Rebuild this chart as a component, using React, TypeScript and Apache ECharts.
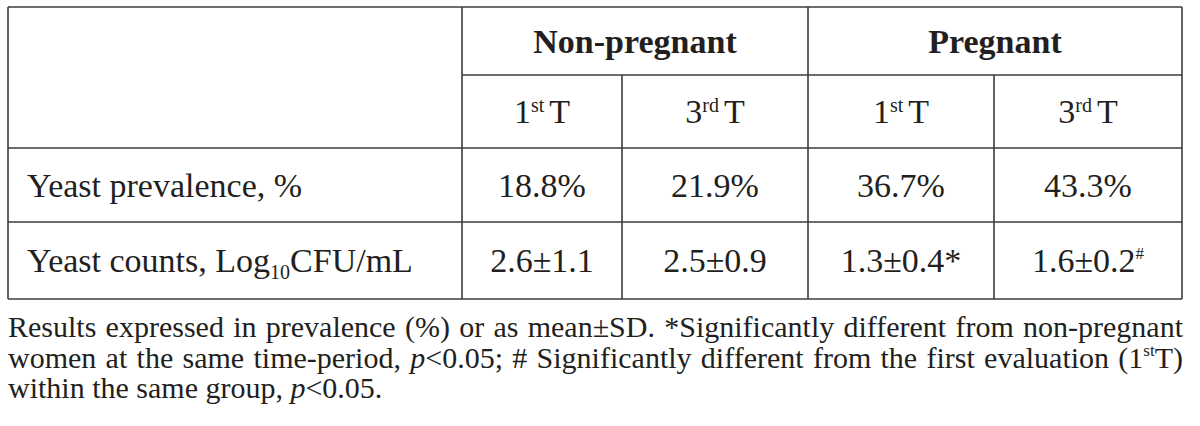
import React, { useEffect, useRef } from "react";
import * as echarts from "echarts";

// ---------- data ----------
const groups = ["Non-pregnant", "Pregnant"];
const periodNumbers = ["1", "3"];
const periodSuffixes = ["st", "rd"];
const rowLabels = ["Yeast prevalence, %", "Yeast counts, Log10CFU/mL"];
const prevalence = [18.8, 21.9, 36.7, 43.3];
const countMean = [2.6, 2.5, 1.3, 1.6];
const countSD = [1.1, 0.9, 0.4, 0.2];
const countMarks = ["", "", "*", "#"];
const footLine1 = "Results expressed in prevalence (%) or as mean±SD. *Significantly different from non-pregnant";
const footLine2a = "women at the same time-period,";
const footLine2b = "# Significantly different from the first evaluation";
const footLine3a = "within the same group,";

// ---------- layout ----------
const FONT = "Liberation Serif";
const TEXT = "#231f20";
const LINE = "#3c3c3c";
const colX = [8, 462, 622, 808, 994, 1182];
const rowY = [7, 75, 148, 222, 299];
const MAIN = 34;
const SUP = 20;
const FOOT = 30;

type Run = { t: string; size: number; weight?: string; style?: string; dy?: number };

let ctx: CanvasRenderingContext2D | null = null;
function mw(r: Run): number {
  if (!ctx) ctx = document.createElement("canvas").getContext("2d");
  ctx!.font = `${r.style || "normal"} ${r.weight || "normal"} ${r.size}px "${FONT}"`;
  return ctx!.measureText(r.t).width;
}
function runsW(runs: Run[]) {
  return runs.reduce((s, r) => s + mw(r), 0);
}
function textEl(r: Run, x: number, baseline: number) {
  return {
    type: "text",
    x,
    y: baseline + (r.dy || 0) - 0.3375 * r.size,
    silent: true,
    style: {
      text: r.t,
      fontSize: r.size,
      fontFamily: FONT,
      fontWeight: r.weight || "normal",
      fontStyle: r.style || "normal",
      fill: TEXT,
      textAlign: "left",
      textVerticalAlign: "middle",
      verticalAlign: "middle",
    },
  };
}
function place(runs: Run[], x: number, baseline: number, align: "left" | "center") {
  const total = runsW(runs);
  let cx = align === "center" ? x - total / 2 : x;
  const out: any[] = [];
  for (const r of runs) {
    out.push(textEl(r, cx, baseline));
    cx += mw(r);
  }
  return out;
}
function justify(words: Run[][], x0: number, x1: number, baseline: number, full: boolean) {
  const ws = words.map(runsW);
  const sum = ws.reduce((a, b) => a + b, 0);
  const normal = mw({ t: " ", size: FOOT });
  const gap = full ? Math.max(normal * 0.8, (x1 - x0 - sum) / (words.length - 1)) : normal;
  const out: any[] = [];
  let cx = x0;
  words.forEach((w, i) => {
    out.push(...place(w, cx, baseline, "left"));
    cx += ws[i] + gap;
  });
  return out;
}
const plainWords = (s: string): Run[][] => s.split(" ").map((t) => [{ t, size: FOOT }]);

function buildGraphics() {
  const els: any[] = [];
  const ln = (x1: number, y1: number, x2: number, y2: number) =>
    els.push({ type: "line", silent: true, shape: { x1, y1, x2, y2 }, style: { stroke: LINE, lineWidth: 1.6 } });

  // outer border
  ln(colX[0], rowY[0], colX[5], rowY[0]);
  ln(colX[0], rowY[4], colX[5], rowY[4]);
  ln(colX[0], rowY[0], colX[0], rowY[4]);
  ln(colX[5], rowY[0], colX[5], rowY[4]);
  // inner lines
  ln(colX[1], rowY[0], colX[1], rowY[4]);
  ln(colX[3], rowY[0], colX[3], rowY[4]);
  ln(colX[1], rowY[1], colX[5], rowY[1]);
  ln(colX[2], rowY[1], colX[2], rowY[4]);
  ln(colX[4], rowY[1], colX[4], rowY[4]);
  ln(colX[0], rowY[2], colX[5], rowY[2]);
  ln(colX[0], rowY[3], colX[5], rowY[3]);

  const base = (r: number) => (rowY[r] + rowY[r + 1]) / 2 + 11.5;

  // group headers
  groups.forEach((g, gi) => {
    const cx = (colX[1 + gi * 2] + colX[3 + gi * 2]) / 2;
    els.push(...place([{ t: g, size: MAIN, weight: "bold" }], cx, base(0), "center"));
  });
  // period headers
  for (let c = 0; c < 4; c++) {
    const p = c % 2;
    const cx = (colX[1 + c] + colX[2 + c]) / 2;
    els.push(
      ...place(
        [
          { t: periodNumbers[p], size: MAIN },
          { t: periodSuffixes[p] + " ", size: SUP, dy: -11 },
          { t: "T", size: MAIN },
        ],
        cx,
        base(1),
        "center"
      )
    );
  }
  // row labels
  const LX = 27;
  els.push(...place([{ t: rowLabels[0], size: MAIN }], LX, base(2), "left"));
  const lbl = rowLabels[1];
  const li = lbl.indexOf("10");
  els.push(
    ...place(
      [
        { t: lbl.slice(0, li), size: MAIN },
        { t: "10", size: SUP, dy: 7 },
        { t: lbl.slice(li + 2), size: MAIN },
      ],
      LX,
      base(3),
      "left"
    )
  );
  // values
  for (let c = 0; c < 4; c++) {
    const cx = (colX[1 + c] + colX[2 + c]) / 2;
    els.push(...place([{ t: prevalence[c].toFixed(1) + "%", size: MAIN }], cx, base(2), "center"));
    const mark = countMarks[c];
    const runs: Run[] = [{ t: `${countMean[c].toFixed(1)}±${countSD[c].toFixed(1)}`, size: MAIN }];
    if (mark === "*") runs.push({ t: "*", size: MAIN });
    else if (mark) runs.push({ t: mark, size: 17, dy: -13 });
    els.push(...place(runs, cx, base(3), "center"));
  }

  // footnote
  const fx0 = 8;
  const fx1 = 1183;
  const pRuns = (after: string): Run[] => [
    { t: "p", size: FOOT, style: "italic" },
    { t: after, size: FOOT },
  ];
  els.push(...justify(plainWords(footLine1), fx0, fx1, 337, true));
  els.push(
    ...justify(
      [
        ...plainWords(footLine2a),
        pRuns("<0.05;"),
        ...plainWords(footLine2b),
        [
          { t: "(1", size: FOOT },
          { t: "st", size: 17, dy: -11 },
          { t: "T)", size: FOOT },
        ],
      ],
      fx0,
      fx1,
      367.5,
      true
    )
  );
  els.push(...justify([...plainWords(footLine3a), pRuns("<0.05.")], fx0, fx1, 398, false));
  return els;
}

export default function App() {
  const ref = useRef<HTMLDivElement>(null);
  useEffect(() => {
    document.body.style.margin = "0";
    const chart = echarts.init(ref.current!, null, { renderer: "svg" });
    chart.setOption({
      animation: false,
      backgroundColor: "#ffffff",
      graphic: { elements: buildGraphics() },
    });
    return () => chart.dispose();
  }, []);
  return <div ref={ref} style={{ width: 1200, height: 426 }} />;
}
